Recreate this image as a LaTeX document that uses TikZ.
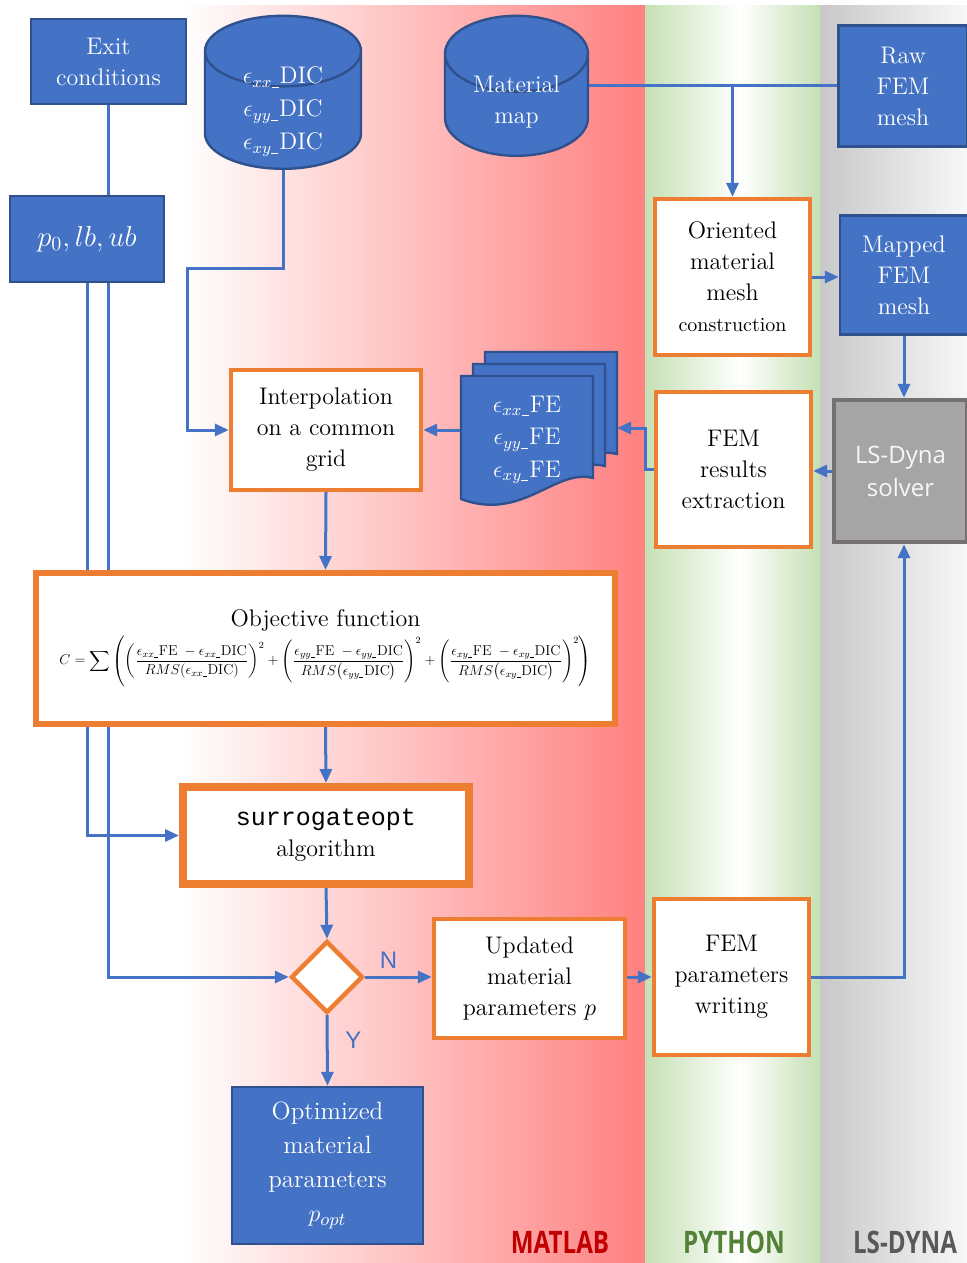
\documentclass[tikz,border=0pt]{standalone}
\usepackage{amsmath}
\usepackage{graphicx}
\usepackage{fontspec}
\setmonofont{Liberation Mono}
\newfontfamily\lanefont{Open Sans}
\newfontfamily\labelfont{Liberation Sans}
\usetikzlibrary{arrows.meta,positioning,calc,shapes.geometric}
\definecolor{bfill}{HTML}{4472C4}
\definecolor{bline}{HTML}{2F528F}
\definecolor{oline}{HTML}{ED7D31}
\definecolor{gfill}{HTML}{A5A5A5}
\definecolor{gline}{HTML}{767171}
\definecolor{mred}{HTML}{FF8080}
\definecolor{mredd}{HTML}{C00000}
\definecolor{pgreen}{HTML}{C5E0B4}
\definecolor{pgreend}{HTML}{538135}
\definecolor{lgray}{HTML}{C8C8C8}
\definecolor{lgrayd}{HTML}{595959}
\pgfdeclarelayer{lanes}
\pgfdeclarelayer{wires}
\pgfsetlayers{lanes,wires,main}
\newcommand{\epsl}[1]{\epsilon_{#1\rule{0.3em}{0.4pt}}}
\newcommand{\boxfont}{\fontsize{12}{15.5}\selectfont}
% raise a stack of lines without changing its reported size
\newcommand{\liftlines}[2]{\raisebox{#1}[\height][\depth]{\begin{tabular}{@{}c@{}}#2\end{tabular}}}
\tikzset{
  % blue data blocks, orange process blocks
  data/.style   = {rectangle, draw=bline, fill=bfill, line width=1.2pt, text=white,
                   align=center, inner sep=2pt, font=\boxfont},
  store/.style  = {cylinder, shape border rotate=90, aspect=0.8, draw=bline, fill=bfill,
                   line width=1.2pt, text=white, align=center, inner xsep=2pt, inner ysep=-14pt,
                   anchor=south, font=\fontsize{12}{16.5}\selectfont},
  task/.style   = {rectangle, draw=oline, fill=white, line width=2.2pt,
                   align=center, inner sep=2pt, font=\boxfont},
  solver/.style = {rectangle, draw=gline, fill=gfill, line width=2.2pt, text=white!94!gray,
                   align=center, font=\lanefont\fontsize{12}{16.5}\selectfont},
  decide/.style = {diamond, draw=oline, fill=white, line width=2.2pt,
                   minimum width=36pt, minimum height=36pt, inner sep=0pt},
  flow/.style   = {-{Triangle[length=7pt,width=6pt]}, line width=1.5pt, bfill},
  link/.style   = {line width=1.5pt, bfill},
  yn/.style     = {font=\labelfont\fontsize{12}{12}\selectfont},
  lane/.style   = {font=\lanefont\bfseries\fontsize{15.5}{15.5}\selectfont},
}
\begin{document}
\begin{tikzpicture}[x=0.5pt,y=-0.5pt]
\useasboundingbox (0,0) rectangle (967,1263);
% software lanes
\begin{pgfonlayer}{lanes}
  \fill[white] (0,0) rectangle (967,1263);
  \shade[left color=white, right color=mred] (180,6) rectangle (645,1263);
  \shade[left color=pgreen, right color=white] (645,6) rectangle (740,1263);
  \shade[left color=white, right color=pgreen] (740,6) rectangle (820,1263);
  \shade[left color=lgray, right color=white!97!black] (820,6) rectangle (967,1263);
\end{pgfonlayer}

\node[data, minimum width=77.5pt, minimum height=42.5pt] (exit) at (108.5,61.5) {Exit\\conditions};
\node[data, minimum width=77pt, minimum height=43pt, font=\fontsize{14}{16}\selectfont] (p0) at (87,239) {$p_0, lb, ub$};
\node[store, minimum width=78pt, minimum height=76.5pt] (dic) at (283,170)
  {\liftlines{3pt}{$\epsl{xx}$DIC\\$\epsl{yy}$DIC\\$\epsl{xy}$DIC}};
\node[store, minimum width=71.5pt, minimum height=70pt, font=\boxfont] (map) at (516.5,157)
  {\liftlines{5pt}{Material\\map}};
\node[data, minimum width=64.5pt, minimum height=60.5pt] (raw) at (903,86) {Raw\\FEM\\mesh};
\node[task, minimum width=77.5pt, minimum height=78pt] (ori) at (732.5,277)
  {Oriented\\material\\mesh\\{\fontsize{10}{12}\selectfont construction}};
\node[data, minimum width=64pt, minimum height=59.5pt] (mapped) at (904,275) {Mapped\\FEM\\mesh};
\node[solver, minimum width=66.5pt, minimum height=71pt] (ls) at (900.5,471) {LS-Dyna\\solver};
\node[task, minimum width=77.5pt, minimum height=77.5pt] (res) at (733.5,469.5) {FEM\\results\\extraction};

% stacked FE strain files
\foreach \d in {24,12,0}
  \draw[draw=bline, fill=bfill, line width=1.2pt]
    ({461+\d},{376-\d}) -- ({593+\d},{376-\d}) -- ({593+\d},{478-\d})
    .. controls ({555+\d},{468-\d}) and ({522+\d},{522-\d}) .. ({461+\d},{499-\d}) -- cycle;
\node[text=white, align=center, inner sep=0pt, minimum width=66pt, minimum height=64.5pt,
      font=\fontsize{12}{16.25}\selectfont] (fe) at (527,440)
  {$\epsl{xx}$FE\\$\epsl{yy}$FE\\$\epsl{xy}$FE};
\coordinate (fe back) at (617,428);

\node[task, minimum width=95pt, minimum height=60pt] (interp) at (326,430) {Interpolation\\on a common\\grid};
\node[task, line width=3pt, minimum width=289.5pt, minimum height=75.5pt] (obj) at (325.5,648.5)
  {Objective function\\[1pt]
   \resizebox{266pt}{!}{$C=\displaystyle\sum\left(\left(\frac{\epsl{xx}\mathrm{FE}\;-\epsl{xx}\mathrm{DIC}}{RMS(\epsl{xx}\mathrm{DIC})}\right)^{2}
   +\left(\frac{\epsl{yy}\mathrm{FE}\;-\epsl{yy}\mathrm{DIC}}{RMS\bigl(\epsl{yy}\mathrm{DIC}\bigr)}\right)^{2}
   +\left(\frac{\epsl{xy}\mathrm{FE}\;-\epsl{xy}\mathrm{DIC}}{RMS\bigl(\epsl{xy}\mathrm{DIC}\bigr)}\right)^{2}\right)$}};
\node[task, line width=3pt, minimum width=144pt, minimum height=49.5pt] (sur) at (326,835.5)
  {{\ttfamily\fontsize{12.5}{15.5}\selectfont surrogateopt}\\algorithm};
\draw[oline, line width=0.8pt] ([shift={(3.4pt,-3.4pt)}]sur.north west) rectangle ([shift={(-3.4pt,3.4pt)}]sur.south east);
\node[decide] (dia) at (327,977) {};
\node[task, minimum width=95.5pt, minimum height=59.5pt] (upd) at (529.5,978.5) {Updated\\material\\parameters $p$};
\node[task, minimum width=77.5pt, minimum height=78pt] (wri) at (731.5,977) {FEM\\parameters\\writing};
\node[data, minimum width=95.5pt, minimum height=78.5pt, font=\fontsize{12.5}{17}\selectfont] (opt) at (327.5,1165.5)
  {Optimized\\material\\parameters\\$p_{opt}$};

\node[lane, text=mredd]  (matlab) at (560,1242) {\scalebox{0.78}[1]{MATLAB}};
\node[lane, text=pgreend] (python) at (734,1242) {\scalebox{0.78}[1]{PYTHON}};
\node[lane, text=lgrayd]  (lsdyna) at (905,1242) {\scalebox{0.78}[1]{LS-DYNA}};

% connectors
\begin{pgfonlayer}{wires}
\draw[flow] (exit.south) |- (dia.west);
\draw[flow] (p0.south) |- (sur.west);
\draw[flow] (dic.south) |- ++(-96,98) |- (interp.west);
\draw[link] (map.east |- raw.west) -- (raw.west);
\draw[flow] (ori.north |- raw.west) -- (ori.north);
\draw[flow] (ori.east) -- (ori.east -| mapped.west);
\draw[flow] (mapped.south) -- (mapped.south |- ls.north);
\draw[flow] (ls.west) -- (ls.west -| res.east);
\draw[flow] (res.west) -- ++(-8,0) |- (fe back);
\draw[flow] (fe.west |- interp.east) -- (interp.east);
\draw[flow] (interp.south) -- (obj.north);
\draw[flow] (obj.south) -- (sur.north);
\draw[flow] (sur.south) -- (dia.north);
\draw[flow] (dia.east) -- node[yn, above, pos=0.35] {N} (dia.east -| upd.west);
\draw[flow] (dia.south) -- node[yn, right=5pt, pos=0.35] {Y} (opt.north);
\draw[flow] (upd.east |- wri.west) -- (wri.west);
\draw[flow] (wri.east) -| (mapped.south |- ls.south);
\end{pgfonlayer}
\end{tikzpicture}
\end{document}
